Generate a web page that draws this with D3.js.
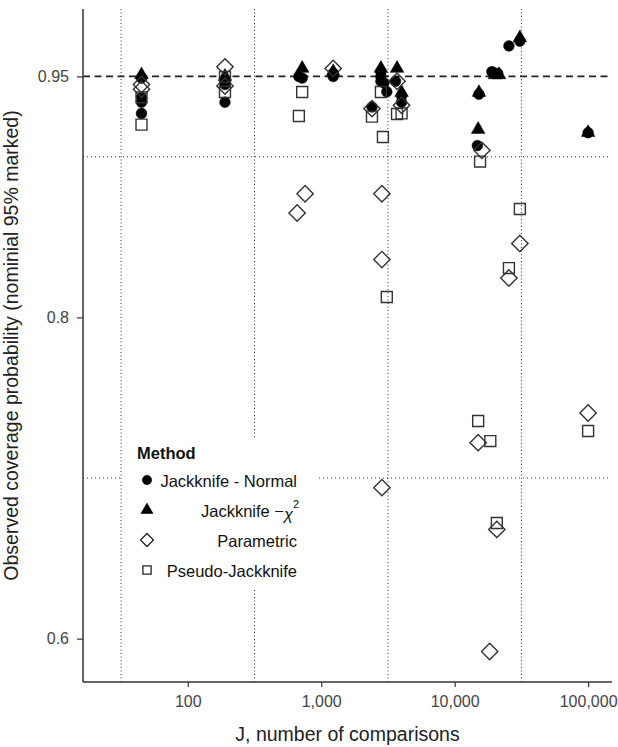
<!DOCTYPE html>
<html>
<head>
<script src="https://cdn.jsdelivr.net/npm/d3@7"></script>
<style>
body { margin: 0; background: white; }
text { font-family: "Liberation Sans", Arial, sans-serif; }
</style>
</head>
<body>
<script>

// J (number of comparisons) and observed coverage for each method
var jnJ   = [45, 45, 45, 45, 190, 190, 190, 680, 720, 1230, 1230, 2400, 2800, 2800, 2800, 2950, 3100, 3600, 4000, 4000, 15200, 14800, 19000, 21000, 25500, 30800, 100000];
var jnCov = [0.949, 0.937, 0.934, 0.927, 0.948, 0.945, 0.934, 0.950, 0.949, 0.952, 0.950, 0.931, 0.953, 0.950, 0.947, 0.946, 0.9405, 0.947, 0.938, 0.934, 0.939, 0.907, 0.953, 0.952, 0.969, 0.972, 0.915];

var jcJ   = [45, 190, 720, 1230, 2800, 3700, 4000, 15200, 15000, 20000, 21500, 30800, 100000];
var jcCov = [0.951, 0.950, 0.955, 0.953, 0.955, 0.955, 0.940, 0.940, 0.917, 0.951, 0.951, 0.974, 0.915];

var parJ   = [45, 45, 190, 190, 660, 757, 1230, 2400, 2850, 2850, 2850, 3700, 4000, 16000, 15000, 20700, 18300, 25500, 30800, 100000];
var parCov = [0.945, 0.942, 0.956, 0.944, 0.865, 0.877, 0.955, 0.930, 0.877, 0.836, 0.694, 0.947, 0.932, 0.904, 0.722, 0.668, 0.592, 0.8245, 0.846, 0.7405];

var psJ   = [45, 45, 190, 190, 680, 720, 2400, 2800, 2900, 3100, 3700, 4000, 15500, 15000, 18500, 20700, 25500, 30800, 100000];
var psCov = [0.937, 0.920, 0.9497, 0.9403, 0.9254, 0.9403, 0.925, 0.9403, 0.9123, 0.8127, 0.9266, 0.927, 0.897, 0.7355, 0.723, 0.672, 0.8307, 0.8675, 0.7293];

var xTicks = [100, 1000, 10000, 100000];
var xGrid = [31.62, 316.2, 3162, 31623];
var yTicks = [0.6, 0.8, 0.95];
var yGrid = [0.7, 0.9];
var nominal = 0.95;

var W = 618, H = 747;
var pLeft = 83, pRight = 612, pTop = 9, pBottom = 682;

var svg = d3.select("body").append("svg")
	.attr("width", W)
	.attr("height", H);

var x = d3.scaleLog().domain([16.4, 151000]).range([pLeft, pRight]);
var y = d3.scaleLinear().domain([0.573, 0.992]).range([pBottom, pTop]);

// grid
svg.selectAll("line.vgrid").data(xGrid).enter().append("line")
	.attr("class", "vgrid")
	.attr("x1", function(d) { return x(d); })
	.attr("x2", function(d) { return x(d); })
	.attr("y1", pTop)
	.attr("y2", pBottom)
	.style("stroke", "#333")
	.style("stroke-width", 1)
	.style("stroke-dasharray", "1,2.5");

svg.selectAll("line.hgrid").data(yGrid).enter().append("line")
	.attr("class", "hgrid")
	.attr("x1", pLeft)
	.attr("x2", pRight - 4)
	.attr("y1", function(d) { return y(d); })
	.attr("y2", function(d) { return y(d); })
	.style("stroke", "#333")
	.style("stroke-width", 1)
	.style("stroke-dasharray", "1,3");

svg.append("line")
	.attr("x1", pLeft)
	.attr("x2", pRight - 4)
	.attr("y1", y(nominal))
	.attr("y2", y(nominal))
	.style("stroke", "#222")
	.style("stroke-width", 1.8)
	.style("stroke-dasharray", "7,4.5");

// points
var sym = {
	circle: d3.symbol(d3.symbolCircle, 90),
	triangle: d3.symbol(d3.symbolTriangle, 80),
	square: d3.symbol(d3.symbolSquare, 120),
	diamond: d3.symbol(d3.symbolSquare, 134)
};

function pts(js, vs) {
	return js.map(function(j, i) { return {j: j, v: vs[i]}; });
}

function drawSeries(data, shape, filled, rot) {
	svg.append("g").selectAll("path").data(data).enter().append("path")
		.attr("d", sym[shape])
		.attr("transform", function(d) {
			return "translate(" + x(d.j) + "," + y(d.v) + ")" + (rot ? " rotate(45)" : "");
		})
		.style("fill", filled ? "#000" : "none")
		.style("stroke", filled ? "#000" : "#333")
		.style("stroke-width", filled ? 0.5 : 1.4);
}

drawSeries(pts(jnJ, jnCov), "circle", true, false);
drawSeries(pts(jcJ, jcCov), "triangle", true, false);
drawSeries(pts(parJ, parCov), "diamond", false, true);
drawSeries(pts(psJ, psCov), "square", false, false);

// axes
var xAxis = d3.axisBottom(x).tickValues(xTicks).tickFormat(d3.format(",")).tickSize(5).tickPadding(9);
var yAxis = d3.axisLeft(y).tickValues(yTicks).tickFormat(d3.format("")).tickSize(6).tickPadding(8);

var gx = svg.append("g").attr("transform", "translate(0," + pBottom + ")").call(xAxis);
var gy = svg.append("g").attr("transform", "translate(" + pLeft + ",0)").call(yAxis);

gx.select(".domain").attr("d", "M" + pLeft + ",0H" + pRight);
gy.select(".domain").attr("d", "M0," + pTop + "V" + pBottom);

[gx, gy].forEach(function(g) {
	g.select(".domain").style("stroke", "#333").style("stroke-width", 1.5);
	g.selectAll(".tick line").style("stroke", "#333").style("stroke-width", 1.2);
	g.selectAll(".tick text").style("font-size", "16px").style("fill", "#444")
		.style("font-family", "Liberation Sans, Arial, sans-serif");
});

svg.append("text")
	.attr("x", (pLeft + pRight) / 2)
	.attr("y", 741)
	.attr("text-anchor", "middle")
	.style("font-size", "19.5px")
	.style("fill", "#222")
	.text("J, number of comparisons");

svg.append("text")
	.attr("transform", "translate(18," + ((pTop + pBottom) / 2) + ") rotate(-90)")
	.attr("text-anchor", "middle")
	.style("font-size", "19.5px")
	.style("fill", "#222")
	.text("Observed coverage probability (nominial 95% marked)");

// legend
var lg = svg.append("g");
lg.append("rect")
	.attr("x", 123).attr("y", 437)
	.attr("width", 194).attr("height", 151)
	.style("fill", "white");

lg.append("text")
	.attr("x", 137).attr("y", 459)
	.style("font-size", "16.5px")
	.style("font-weight", "bold")
	.style("fill", "#111")
	.text("Method");

var legLabels = ["Jackknife - Normal", "Jackknife", "Parametric", "Pseudo-Jackknife"];
var legShapes = ["circle", "triangle", "diamond", "square"];
var legFilled = [true, true, false, false];
var legY = [480, 510, 540, 570];
var legSym = {
	circle: d3.symbol(d3.symbolCircle, 70),
	triangle: d3.symbol(d3.symbolTriangle, 64),
	diamond: d3.symbol(d3.symbolSquare, 84),
	square: d3.symbol(d3.symbolSquare, 68)
};

legLabels.forEach(function(lab, i) {
	lg.append("path")
		.attr("d", legSym[legShapes[i]])
		.attr("transform", "translate(147," + legY[i] + ")" + (legShapes[i] === "diamond" ? " rotate(45)" : ""))
		.style("fill", legFilled[i] ? "#000" : "none")
		.style("stroke", legFilled[i] ? "#000" : "#222")
		.style("stroke-width", legFilled[i] ? 0.5 : 1.3);
	var t = lg.append("text")
		.attr("y", legY[i] + 6.5)
		.style("font-size", "16.5px")
		.style("fill", "#111");
	if (i === 1) {
		t.attr("x", 201);
		t.append("tspan").text("Jackknife \u2212");
		t.append("tspan").attr("dy", 3).style("font-style", "italic").text("\u03c7");
		t.append("tspan").attr("dy", -12).style("font-size", "11px").text("2");
	} else {
		t.attr("x", 297).attr("text-anchor", "end").text(lab);
	}
});

</script>
</body>
</html>
